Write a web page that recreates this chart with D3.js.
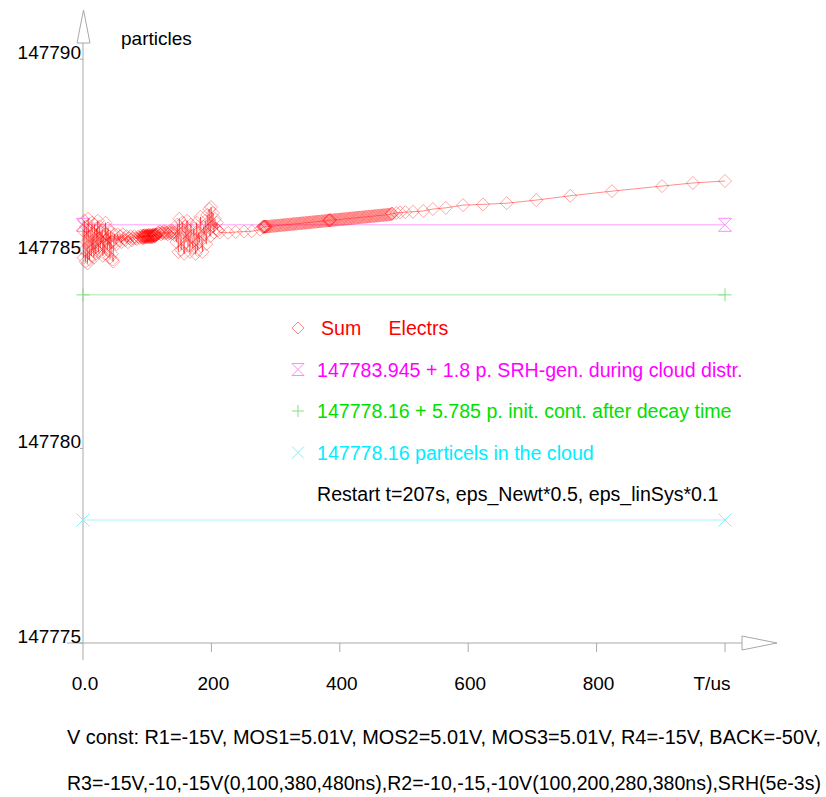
<!DOCTYPE html>
<html>
<head>
<meta charset="utf-8">
<script src="https://cdn.jsdelivr.net/npm/d3@7"></script>
<style>
  body { margin: 0; background: #fff; }
  svg text { font-family: "Liberation Sans", Arial, sans-serif; font-size: 19px; }
</style>
</head>
<body>
<svg width="826" height="797"></svg>
<script>
// ---- data: "Sum Electrs", in pieces as the solver wrote them ----
// start, t = 0..50
var startTimes = [0, 1, 2, 3, 4, 5, 6, 7, 8, 9, 10, 11, 12, 13, 14, 15, 16, 17, 18, 19, 20, 21, 22, 23, 24, 25,
  26, 27, 28, 29, 30, 31, 32, 33, 34, 35, 36, 37, 38, 39, 40, 41, 42, 43, 44, 45, 46, 47, 48, 49, 50];
var startValues = [
  147785.60, 147784.90, 147785.85, 147785.10, 147784.80, 147785.70, 147785.30, 147784.75, 147785.90, 147785.20,
  147784.85, 147785.60, 147785.45, 147784.95, 147785.80, 147785.10, 147785.50, 147784.90, 147785.75, 147785.30,
  147785.00, 147785.65, 147785.20, 147785.85, 147785.05, 147785.40, 147785.70, 147785.15, 147785.55, 147785.30,
  147785.60, 147784.95, 147785.45, 147785.20, 147785.00, 147785.80, 147785.35, 147785.50, 147785.10, 147785.65,
  147785.25, 147785.45, 147784.90, 147785.55, 147785.30, 147785.00, 147784.85, 147784.80, 147785.35, 147785.50,
  147785.30];
// calmer part, t = 52..90
var calmTimes = [52, 54, 56, 58, 60, 62, 64, 66, 68, 70, 72, 74, 76, 78, 80, 82, 84, 86, 88, 90];
var calmValues = [
  147785.25, 147785.50, 147785.35, 147785.45, 147785.30, 147785.50, 147785.40, 147785.35, 147785.45, 147785.30,
  147785.40, 147785.45, 147785.35, 147785.40, 147785.45, 147785.40, 147785.38, 147785.44, 147785.41, 147785.46];
// dense blob, t = 92..114
var blobTimes = [92, 92.5, 93, 93.5, 94, 94.5, 95, 95.5, 96, 96.5, 97, 97.5, 98, 98.5, 99, 99.5, 100, 100.5,
  101, 101.5, 102, 102.5, 103, 103.5, 104, 104.5, 105, 105.5, 106, 106.5, 107, 107.5, 108, 108.5, 109, 109.5,
  110, 110.5, 111, 111.5, 112, 112.5, 113, 113.5, 114];
var blobValues = [
  147785.42, 147785.45, 147785.40, 147785.47, 147785.43, 147785.46, 147785.41, 147785.48, 147785.44, 147785.45,
  147785.42, 147785.47, 147785.44, 147785.46, 147785.43, 147785.48, 147785.45, 147785.47, 147785.44, 147785.42,
  147785.46, 147785.49, 147785.45, 147785.43, 147785.47, 147785.44, 147785.48, 147785.46, 147785.42, 147785.45,
  147785.47, 147785.44, 147785.49, 147785.46, 147785.43, 147785.48, 147785.45, 147785.47, 147785.50, 147785.46,
  147785.48, 147785.45, 147785.49, 147785.47, 147785.50];
// t = 115.5..144
var midTimes = [115.5, 117, 118.5, 120, 121.5, 123, 124.5, 126, 127.5, 129, 130.5, 132, 133.5, 135, 136.5,
  138, 139.5, 141, 142.5, 144];
var midValues = [
  147785.50, 147785.55, 147785.52, 147785.57, 147785.50, 147785.55, 147785.53, 147785.58, 147785.52, 147785.56,
  147785.54, 147785.50, 147785.57, 147785.53, 147785.55, 147785.60, 147785.52, 147785.56, 147785.48, 147785.55];
// second noisy part, t = 145.5..210
var noisyTimes = [145.5, 147, 148.5, 150, 151.5, 153, 154.5, 156, 157.5, 159, 160.5, 162, 163.5, 165, 166.5,
  168, 169.5, 171, 172.5, 174, 175.5, 177, 178.5, 180, 181.5, 183, 184.5, 186, 187.5, 189, 190.5, 192, 193.5,
  195, 196.5, 198, 199.5, 201, 202.5, 204, 205.5, 207, 208.5, 210];
var noisyValues = [
  147785.30, 147785.75, 147785.05, 147785.90, 147785.40, 147785.10, 147785.80, 147785.55, 147785.00, 147785.70,
  147785.30, 147785.85, 147785.20, 147785.60, 147785.05, 147785.75, 147785.45, 147785.15, 147785.65, 147785.35,
  147785.00, 147785.80, 147785.10, 147785.55, 147785.30, 147785.95, 147785.40, 147785.05, 147785.70, 147785.50,
  147785.85, 147785.25, 147786.00, 147785.60, 147786.15, 147785.45, 147786.20, 147785.70, 147786.05, 147785.55,
  147785.90, 147785.65, 147785.80, 147785.60];
// sparse steps, t = 213..276
var sparseTimes = [213, 226, 238, 251, 263, 276];
var sparseValues = [147785.55, 147785.54, 147785.56, 147785.57, 147785.58, 147785.62];
// dense band, t = 280..478
var bandTimes = [280, 282, 284, 286, 288, 290, 292, 294, 296, 298, 300, 302, 304, 306, 308, 310, 312, 314,
  316, 318, 320, 322, 324, 326, 328, 330, 332, 334, 336, 338, 340, 342, 344, 346, 348, 350, 352, 354, 356,
  358, 360, 362, 364, 366, 368, 370, 372, 374, 376, 378, 380, 382, 384, 386, 388, 390, 392, 394, 396, 398,
  400, 402, 404, 406, 408, 410, 412, 414, 416, 418, 420, 422, 424, 426, 428, 430, 432, 434, 436, 438, 440,
  442, 444, 446, 448, 450, 452, 454, 456, 458, 460, 462, 464, 466, 468, 470, 472, 474, 476, 478];
var bandValues = [
  147785.690, 147785.692, 147785.695, 147785.698, 147785.700, 147785.704, 147785.707, 147785.710, 147785.713, 147785.716,
  147785.720, 147785.723, 147785.726, 147785.730, 147785.733, 147785.736, 147785.740, 147785.743, 147785.746, 147785.749,
  147785.752, 147785.756, 147785.759, 147785.762, 147785.766, 147785.769, 147785.772, 147785.775, 147785.779, 147785.782,
  147785.785, 147785.788, 147785.792, 147785.795, 147785.798, 147785.801, 147785.805, 147785.808, 147785.811, 147785.815,
  147785.818, 147785.821, 147785.824, 147785.828, 147785.831, 147785.834, 147785.837, 147785.841, 147785.844, 147785.847,
  147785.850, 147785.854, 147785.857, 147785.860, 147785.864, 147785.867, 147785.870, 147785.873, 147785.877, 147785.880,
  147785.883, 147785.886, 147785.890, 147785.893, 147785.896, 147785.899, 147785.903, 147785.906, 147785.909, 147785.913,
  147785.916, 147785.919, 147785.922, 147785.926, 147785.929, 147785.932, 147785.935, 147785.939, 147785.942, 147785.945,
  147785.948, 147785.952, 147785.955, 147785.958, 147785.962, 147785.965, 147785.968, 147785.971, 147785.975, 147785.978,
  147785.981, 147785.984, 147785.988, 147785.991, 147785.994, 147785.997, 147786.001, 147786.004, 147786.007, 147786.011];
// repeated points at the restarts
var restartTimes = [281, 282, 283, 284, 285, 383, 384, 385, 480, 481, 482];
var restartValues = [147785.69, 147785.70, 147785.69, 147785.70, 147785.70, 147785.86, 147785.86, 147785.87,
  147786.02, 147786.03, 147786.03];
// tail, t = 488..1000
var tailTimes = [488, 494, 502, 514, 530, 545, 565, 592, 623, 660, 706, 759, 824, 902, 950, 1000];
var tailValues = [147786.05, 147786.06, 147786.07, 147786.08, 147786.10, 147786.15, 147786.18, 147786.25,
  147786.27, 147786.30, 147786.38, 147786.49, 147786.61, 147786.74, 147786.82, 147786.87];

var refTimes = [0, 1000];
var srhValues = [147785.745, 147785.745];
var initValues = [147783.945, 147783.945];
var cloudValues = [147778.16, 147778.16];

var yTicks = [147775, 147780, 147785, 147790];
var xTicks = [0, 200, 400, 600, 800, 1000];
var xTickLabels = ["0.0", "200", "400", "600", "800", "T/us"];

var legendLabels = [
  "Sum     Electrs",
  "147783.945 + 1.8 p. SRH-gen. during cloud distr.",
  "147778.16 + 5.785 p. init. cont. after decay time",
  "147778.16 particels in the cloud",
  "Restart t=207s, eps_Newt*0.5, eps_linSys*0.1"
];
var legendText = ["#ff0000", "#ff00ff", "#00e000", "#00eeff", "#000000"];
var legendMarks = ["diamond", "hourglass", "plus", "times", null];

var footLines = [
  "V const: R1=-15V, MOS1=5.01V, MOS2=5.01V, MOS3=5.01V, R4=-15V, BACK=-50V,",
  "R3=-15V,-10,-15V(0,100,380,480ns),R2=-10,-15,-10V(100,200,280,380ns),SRH(5e-3s)"
];

// join the pieces into one series, sorted on time
var sum = [];
[[startTimes, startValues], [calmTimes, calmValues], [blobTimes, blobValues], [midTimes, midValues],
 [noisyTimes, noisyValues], [sparseTimes, sparseValues], [bandTimes, bandValues],
 [restartTimes, restartValues], [tailTimes, tailValues]].forEach(function(p) {
  p[0].forEach(function(t, i) { sum.push({ t: t, v: p[1][i] }); });
});
sum.sort(function(a, b) { return a.t - b.t; });

// ---- layout ----
var svg = d3.select("svg");
var x = d3.scaleLinear().domain([0, 1000]).range([83, 725]);
var y = d3.scaleLinear().domain([147775, 147790]).range([643, 59.2]);
var axisColor = "#a8a8a8";

function marker(type, r) {
  var p = d3.path();
  if (type == "diamond") {
    p.moveTo(0, -r); p.lineTo(r, 0); p.lineTo(0, r); p.lineTo(-r, 0); p.closePath();
  } else if (type == "hourglass") {
    p.moveTo(-r, -r); p.lineTo(r, r); p.moveTo(r, -r); p.lineTo(-r, r);
    p.moveTo(-r, -r); p.lineTo(r, -r); p.moveTo(-r, r); p.lineTo(r, r);
  } else if (type == "plus") {
    p.moveTo(-r, 0); p.lineTo(r, 0); p.moveTo(0, -r); p.lineTo(0, r);
  } else if (type == "times") {
    p.moveTo(-r, -r); p.lineTo(r, r); p.moveTo(r, -r); p.lineTo(-r, r);
  }
  return p.toString();
}

// axes
svg.append("line").attr("x1", 83).attr("x2", 83).attr("y1", 43).attr("y2", 660)
  .attr("stroke", axisColor);
svg.append("path").attr("d", "M77,43L90,43L83.5,10Z")
  .attr("fill", "#fff").attr("stroke", axisColor);
svg.append("line").attr("x1", 67).attr("x2", 742).attr("y1", 643).attr("y2", 643)
  .attr("stroke", axisColor);
svg.append("path").attr("d", "M742,636L742,650L777,643Z")
  .attr("fill", "#fff").attr("stroke", axisColor);

svg.selectAll(".ytick").data(yTicks).enter().append("line")
  .attr("x1", 80).attr("x2", 83)
  .attr("y1", function(d) { return y(d); }).attr("y2", function(d) { return y(d); })
  .attr("stroke", axisColor);
svg.selectAll(".ylab").data(yTicks).enter().append("text")
  .attr("x", 81).attr("y", function(d) { return y(d); })
  .attr("text-anchor", "end")
  .text(function(d) { return d; });

svg.selectAll(".xtick").data(xTicks.slice(1)).enter().append("line")
  .attr("x1", function(d) { return x(d); }).attr("x2", function(d) { return x(d); })
  .attr("y1", 643).attr("y2", 652)
  .attr("stroke", axisColor);
svg.selectAll(".xlab").data(xTicks).enter().append("text")
  .attr("x", function(d, i) { return i == xTicks.length - 1 ? x(d) - 13 : x(d) + 2; })
  .attr("y", 690)
  .attr("text-anchor", "middle")
  .text(function(d, i) { return xTickLabels[i]; });

svg.append("text").attr("x", 121).attr("y", 45).text("particles");

// reference lines
var refSeries = [
  { v: cloudValues, line: "#a8f4f8", mark: "times", mc: "#88eef4" },
  { v: initValues, line: "#a8eaa8", mark: "plus", mc: "#88dd88" },
  { v: srhValues, line: "#ffa0ff", mark: "hourglass", mc: "#ff88ff" }
];
var refLine = d3.line()
  .x(function(d, i) { return x(refTimes[i]); })
  .y(function(d) { return y(d); });
refSeries.forEach(function(s) {
  svg.append("path")
    .attr("d", refLine(s.v))
    .attr("fill", "none").attr("stroke", s.line);
  svg.selectAll(null).data(s.v).enter().append("path")
    .attr("transform", function(d, i) { return "translate(" + x(refTimes[i]) + "," + y(d) + ")"; })
    .attr("d", marker(s.mark, 6.5))
    .attr("fill", "none").attr("stroke", s.mc);
});

// Sum Electrs series
var sumLine = d3.line()
  .x(function(d) { return x(d.t); })
  .y(function(d) { return y(d.v); });
svg.append("path")
  .attr("d", sumLine(sum))
  .attr("fill", "none").attr("stroke", "#ff0000").attr("stroke-opacity", 0.45);
svg.selectAll(".sum").data(sum).enter().append("path")
  .attr("transform", function(d) { return "translate(" + x(d.t) + "," + y(d.v) + ")"; })
  .attr("d", marker("diamond", 6.5))
  .attr("fill", "none").attr("stroke", "#ff0000").attr("stroke-opacity", 0.35);

// legend
var leg = svg.append("g");
legendLabels.forEach(function(label, i) {
  var by = 335 + i * 41.5;
  if (legendMarks[i]) {
    leg.append("path")
      .attr("transform", "translate(298," + (by - 7) + ")")
      .attr("d", marker(legendMarks[i], 6))
      .attr("fill", "none")
      .attr("stroke", ["#ff8888", "#ff88ff", "#88dd88", "#88eef4"][i]);
  }
  leg.append("text")
    .attr("x", i == 0 ? 321 : 317).attr("y", by)
    .attr("fill", legendText[i])
    .style("white-space", "pre")
    .style("font-size", "19.6px")
    .text(label);
});

// footer, both lines run from x=67 to x=822 in the reference
svg.selectAll(".foot").data(footLines).enter().append("text")
  .attr("x", 67).attr("y", function(d, i) { return 744 + i * 46; })
  .attr("textLength", 754)
  .attr("lengthAdjust", "spacingAndGlyphs")
  .style("font-size", "19.6px")
  .text(function(d) { return d; });
</script>
</body>
</html>
